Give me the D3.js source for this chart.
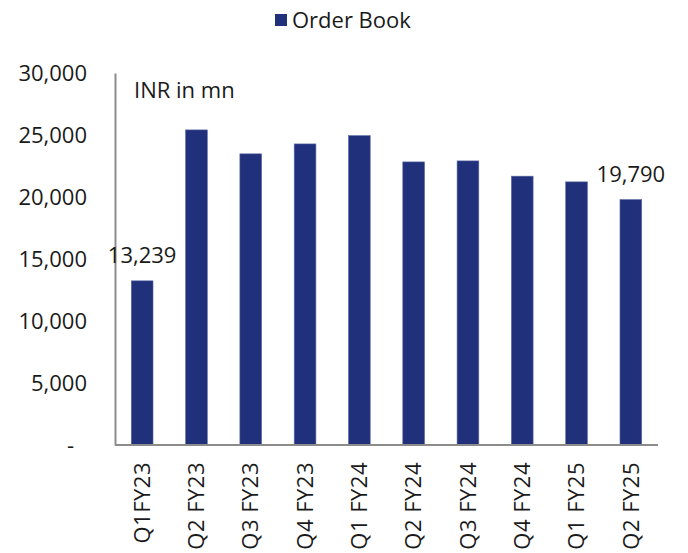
<!DOCTYPE html>
<html>
<head>
<meta charset="utf-8">
<script src="https://cdn.jsdelivr.net/npm/d3@7"></script>
<style>
  body { margin: 0; background: #fff; }
  text { font-family: "Open Sans", "Noto Sans", sans-serif; fill: #1a1a1a; }
</style>
</head>
<body>
<div id="canvas"></div>
<script>
const categories = ["Q1FY23", "Q2 FY23", "Q3 FY23", "Q4 FY23", "Q1 FY24", "Q2 FY24", "Q3 FY24", "Q4 FY24", "Q1 FY25", "Q2 FY25"];
const orderBook = [13239, 25410, 23480, 24280, 24950, 22830, 22910, 21680, 21220, 19790];
const yTicks = [0, 5000, 10000, 15000, 20000, 25000, 30000];
const labelled = [0, 9]; // only first and last bars carry a value label

const width = 688;
const height = 553;
const margin = {top: 73, left: 115, bottom: 108, right: 30};
const iwidth = width - margin.left - margin.right;
const iheight = height - margin.top - margin.bottom;
const barColor = "#21307a";
const fontSize = 22;

const svg = d3.select("#canvas").append("svg")
    .attr("width", width)
    .attr("height", height);

const g = svg.append("g").attr("transform", `translate(${margin.left},${margin.top})`);

const x = d3.scaleBand().domain(categories).range([0, iwidth]).paddingInner(0.6).paddingOuter(0.3);
const y = d3.scaleLinear().domain([0, 30000]).range([iheight, 0]);

// bars
g.selectAll("rect.bar").data(orderBook).enter().append("rect")
    .attr("class", "bar")
    .attr("x", (d, i) => x(categories[i]))
    .attr("y", d => y(d))
    .attr("width", x.bandwidth())
    .attr("height", d => iheight - y(d))
    .style("fill", barColor)
    .style("stroke", "#5b68a6")
    .style("stroke-width", 0.6);

// y axis
const fmt = d => d === 0 ? "-" : d3.format(",")(d);
const yAxis = g.append("g")
    .call(d3.axisLeft(y).tickValues(yTicks).tickFormat(fmt).tickSize(0).tickPadding(28));
yAxis.select(".domain").attr("stroke", "#8c8c8c").attr("stroke-width", 2);
yAxis.selectAll("text")
    .style("font-size", fontSize + "px")
    .attr("dx", d => d === 0 ? -13 : 0);

// x axis
const xAxis = g.append("g")
    .attr("transform", `translate(0,${iheight})`)
    .call(d3.axisBottom(x).tickSize(0).tickPadding(0));
xAxis.select(".domain").attr("stroke", "#8c8c8c").attr("stroke-width", 2)
    .attr("d", `M0,0H${iwidth}`);
xAxis.selectAll("text")
    .style("font-size", fontSize + "px")
    .style("letter-spacing", "0.5px")
    .attr("text-anchor", "end")
    .attr("transform", "rotate(-90)")
    .attr("x", -17)
    .attr("y", 0)
    .attr("dy", "0.35em");

// value labels
g.selectAll("text.value").data(labelled).enter().append("text")
    .attr("class", "value")
    .attr("x", i => x(categories[i]) + x.bandwidth() / 2)
    .attr("y", i => y(orderBook[i]) - 18)
    .attr("text-anchor", "middle")
    .style("font-size", fontSize + "px")
    .text(i => d3.format(",")(orderBook[i]));

// unit note
g.append("text")
    .attr("x", 19)
    .attr("y", 25)
    .style("font-size", fontSize + "px")
    .text("INR in mn");

// legend
const legend = svg.append("g").attr("transform", "translate(275,14)");
legend.append("rect").attr("width", 12).attr("height", 12).style("fill", barColor);
legend.append("text").attr("x", 17).attr("y", 6).attr("dy", "0.35em")
    .style("font-size", fontSize + "px")
    .text("Order Book");
</script>
</body>
</html>
